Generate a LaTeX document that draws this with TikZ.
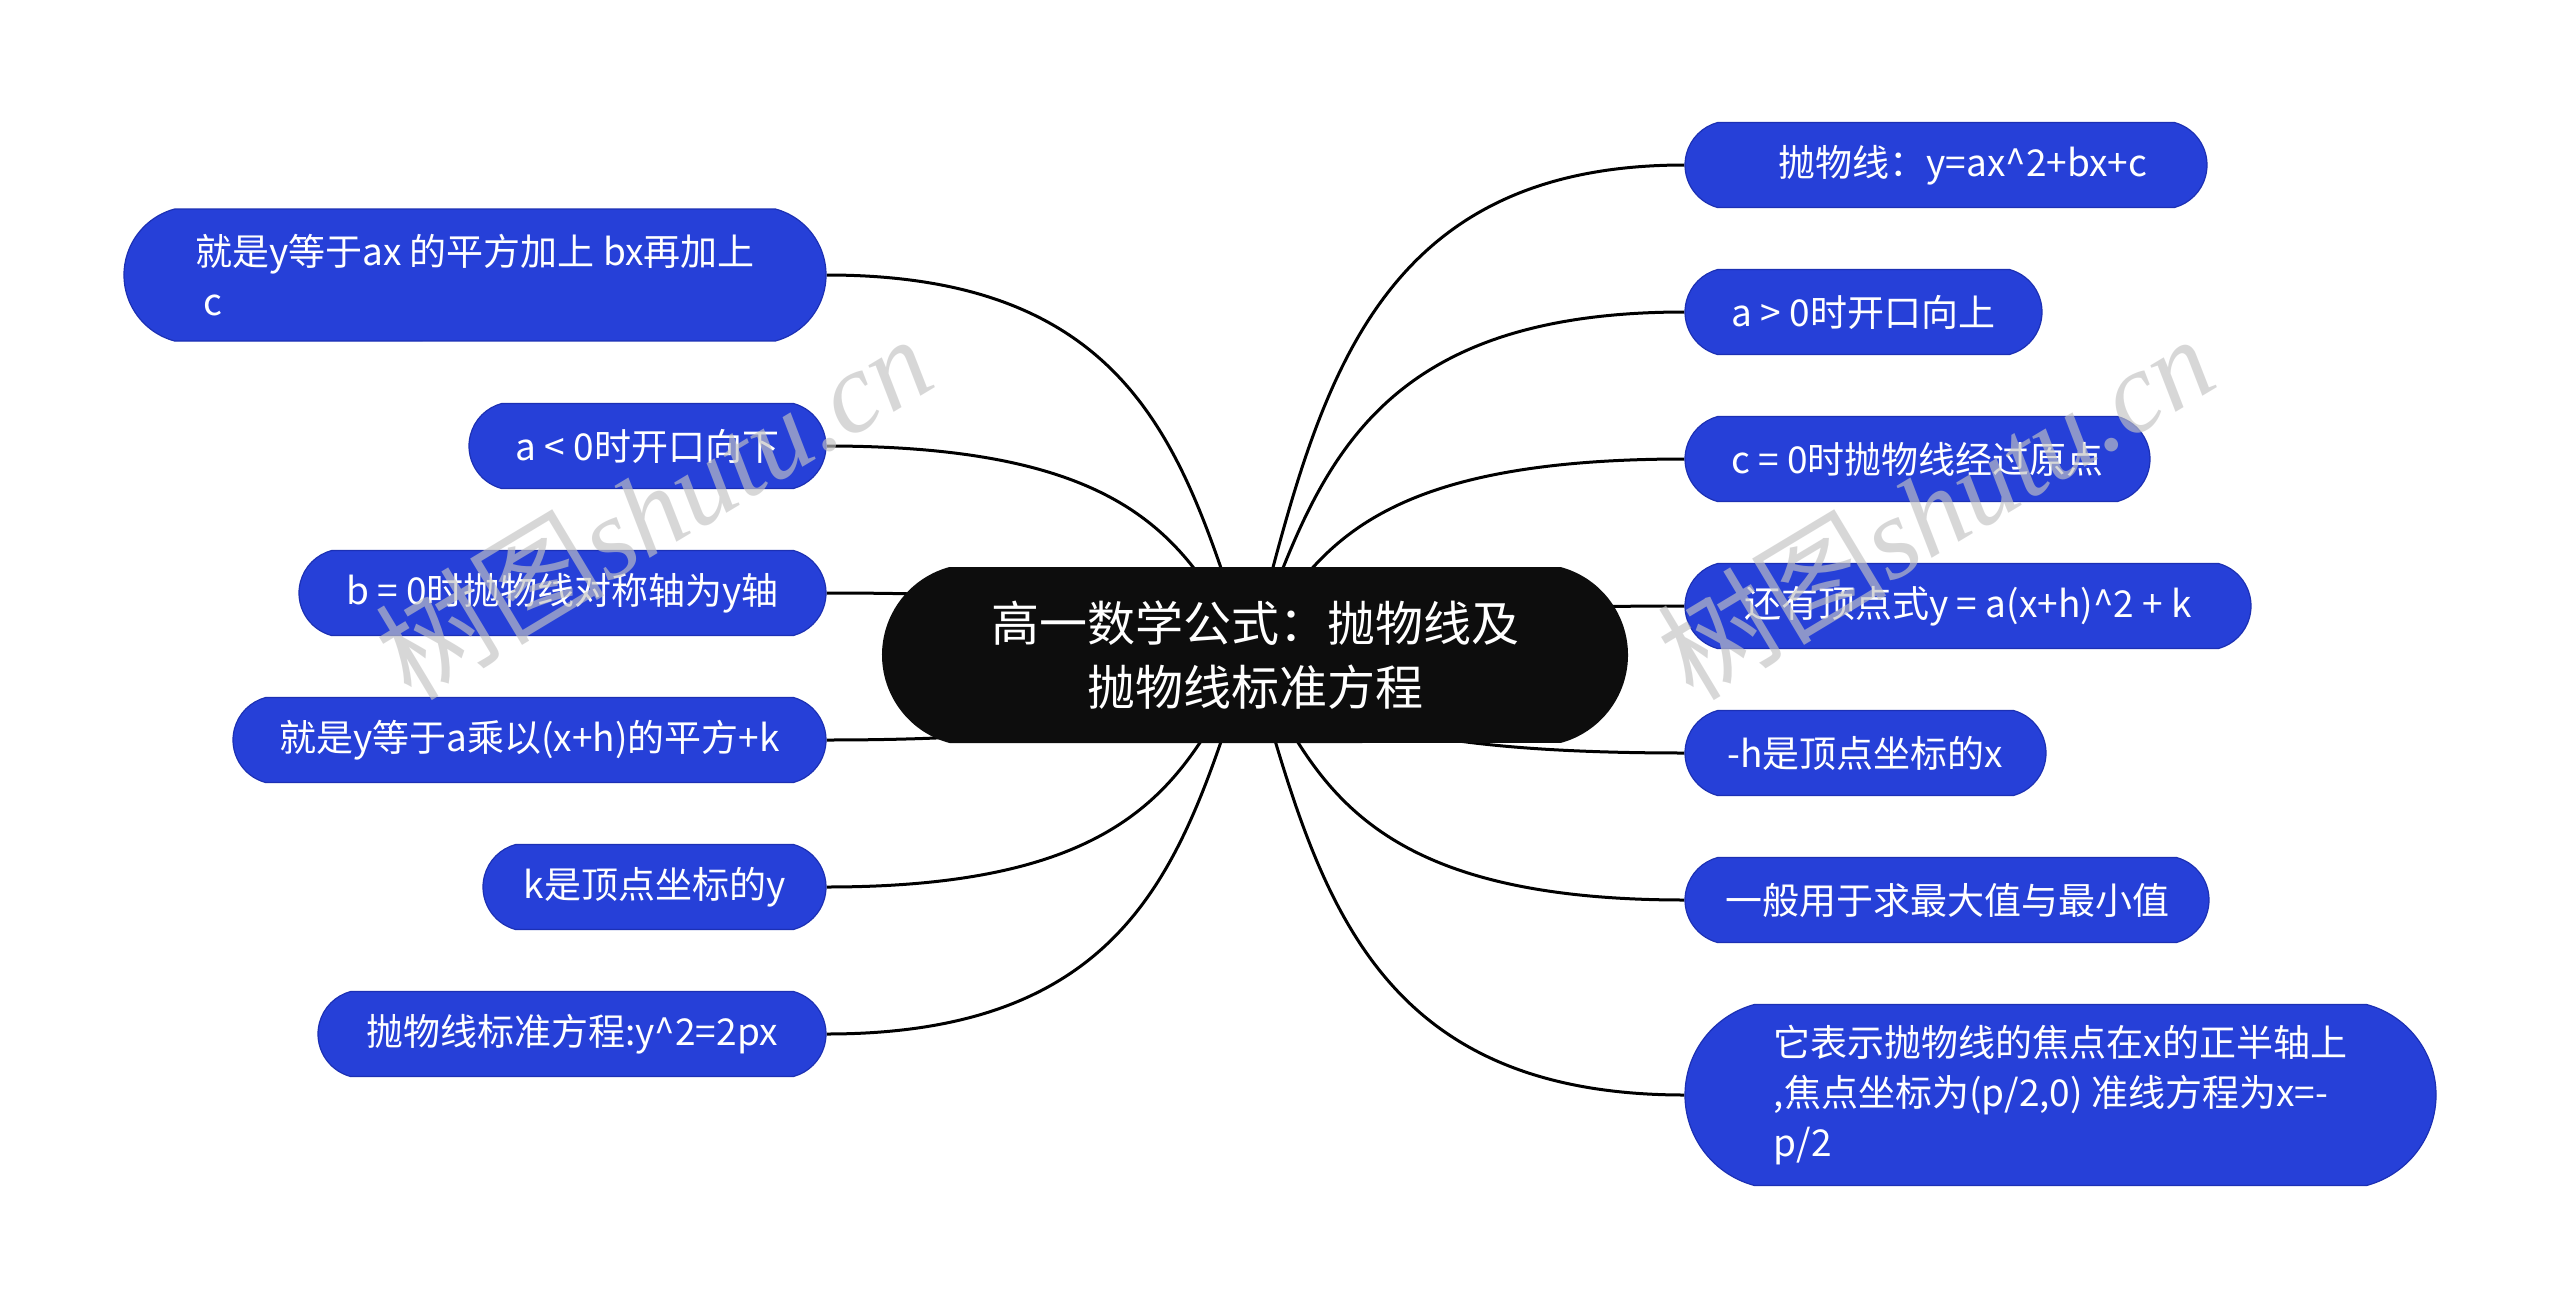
\documentclass[tikz,border=0pt]{standalone}
\usepackage{fontspec}
\setmainfont{Noto Sans CJK SC}
\newfontfamily\wmserif{Liberation Serif}
\usetikzlibrary{shapes.misc}
\definecolor{leafblue}{RGB}{38,64,216}
\definecolor{leafedge}{RGB}{28,48,180}
\definecolor{rootfill}{RGB}{13,13,13}
\definecolor{wmgray}{RGB}{195,195,195}
\pgfdeclarelayer{back}
\pgfdeclarelayer{bg}
\pgfsetlayers{back,bg,main}
\begin{document}
\begin{tikzpicture}[x=1pt,y=-1pt,
  leaf/.style={rounded rectangle, rounded rectangle arc length=150, fill=leafblue, draw=leafedge, line width=1.2pt, text=white, font=\fontsize{37}{50}\selectfont, minimum height=85pt, inner sep=0pt, align=left},
  root/.style={rounded rectangle, rounded rectangle arc length=150, fill=rootfill, text=white, font=\fontsize{48}{64}\selectfont, minimum height=176pt, minimum width=746pt, inner sep=0pt, align=center},
  link/.style={line width=3pt, black},
  wm/.style={text=wmgray, opacity=0.65, rotate=31, font=\fontsize{115}{120}\selectfont, inner sep=0pt}]
\begin{pgfonlayer}{back}
\fill[white] (0,0) rectangle (2560,1309);
\end{pgfonlayer}
\useasboundingbox (0,0) rectangle (2560,1309);

\node[root] (c) at (1255,655) {高一数学公式：抛物线及\\抛物线标准方程};
\coordinate (hub) at (1250,655);

% right
\node[leaf, minimum width=522pt] (r1) at (1946,165) {\hspace*{34pt}抛物线：y=ax\textasciicircum2+bx+c};
\node[leaf, minimum width=357pt] (r2) at (1863.5,312) {a > 0时开口向上};
\node[leaf, minimum width=465pt] (r3) at (1917.5,459) {c = 0时抛物线经过原点};
\node[leaf, minimum width=566pt] (r4) at (1968,606) {还有顶点式y = a(x+h)\textasciicircum2 + k};
\node[leaf, minimum width=361pt] (r5) at (1865.5,753) {-h是顶点坐标的x};
\node[leaf, minimum width=524pt] (r6) at (1947,900) {一般用于求最大值与最小值};
\node[leaf, minimum width=751pt, minimum height=181pt] (r7) at (2060.5,1095) {它表示抛物线的焦点在x的正半轴上\\,焦点坐标为(p/2,0) 准线方程为x=-\\p/2};

% left
\node[leaf, minimum width=702pt, minimum height=132pt] (l1) at (475,275) {就是y等于ax 的平方加上 bx再加上\\\hspace*{8pt}c};
\node[leaf, minimum width=357pt] (l2) at (647.5,446) {a < 0时开口向下};
\node[leaf, minimum width=527pt] (l3) at (562.5,593) {b = 0时抛物线对称轴为y轴};
\node[leaf, minimum width=593pt] (l4) at (529.5,740) {就是y等于a乘以(x+h)的平方+k};
\node[leaf, minimum width=343pt] (l5) at (654.5,887) {k是顶点坐标的y};
\node[leaf, minimum width=508pt] (l6) at (572,1034) {抛物线标准方程:y\textasciicircum2=2px};

\begin{pgfonlayer}{bg}
\draw[link] (hub) .. controls +(65,-245) and +(-325,0) .. (r1.west);
\draw[link] (hub) .. controls +(65,-171.5) and +(-325,0) .. (r2.west);
\draw[link] (hub) .. controls +(65,-98) and +(-325,0) .. (r3.west);
\draw[link] (hub) .. controls +(65,-24.5) and +(-325,0) .. (r4.west);
\draw[link] (hub) .. controls +(65,49) and +(-325,0) .. (r5.west);
\draw[link] (hub) .. controls +(65,122.5) and +(-325,0) .. (r6.west);
\draw[link] (hub) .. controls +(65,220) and +(-325,0) .. (r7.west);
\draw[link] (hub) .. controls +(-64,-190) and +(318,0) .. (l1.east);
\draw[link] (hub) .. controls +(-64,-104.5) and +(318,0) .. (l2.east);
\draw[link] (hub) .. controls +(-64,-31) and +(318,0) .. (l3.east);
\draw[link] (hub) .. controls +(-64,42.5) and +(318,0) .. (l4.east);
\draw[link] (hub) .. controls +(-64,116) and +(318,0) .. (l5.east);
\draw[link] (hub) .. controls +(-64,189.5) and +(318,0) .. (l6.east);
\end{pgfonlayer}

% watermarks
\node[wm] (wm1) at (653,506) {树图{\wmserif\itshape shutu.cn}};
\node[wm] (wm2) at (1935,506) {树图{\wmserif\itshape shutu.cn}};
\end{tikzpicture}
\end{document}
